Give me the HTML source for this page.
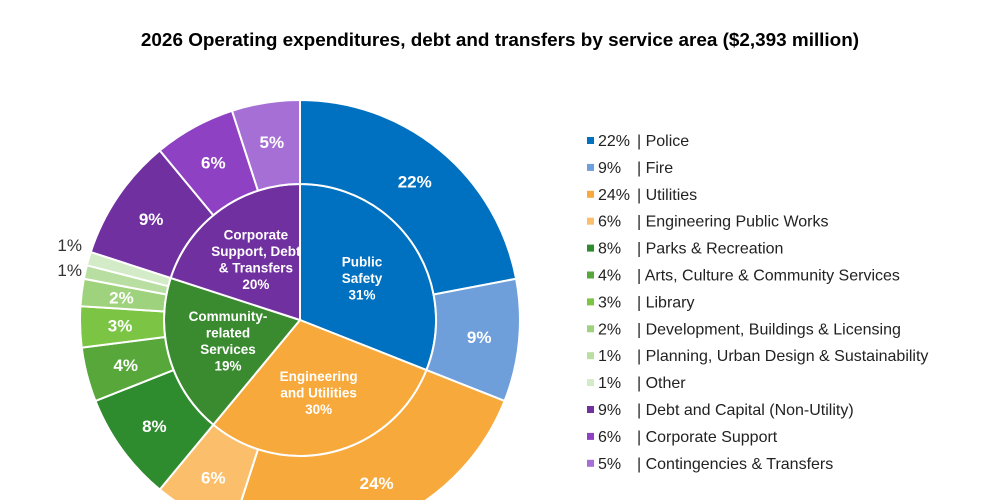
<!DOCTYPE html>
<html><head><meta charset="utf-8"><style>
body{margin:0;background:#fff;width:1000px;height:500px;overflow:hidden;font-family:"Liberation Sans",Arial,sans-serif}
svg{display:block;overflow:hidden}
</style></head><body>
<svg id="chart" width="1000" height="500" viewBox="0 0 1000 500">
<text x="500" y="46" text-anchor="middle" font-size="18.9" font-weight="bold" fill="#000">2026 Operating expenditures, debt and transfers by service area ($2,393 million)</text>
<g id="inner"></g><g id="outer"></g><g id="labels"></g><g id="legend"></g>
</svg>
<script>
const outerNames=["Police","Fire","Utilities","Engineering Public Works","Parks & Recreation","Arts, Culture & Community Services","Library","Development, Buildings & Licensing","Planning, Urban Design & Sustainability","Other","Debt and Capital (Non-Utility)","Corporate Support","Contingencies & Transfers"];
const outerValues=[22,9,24,6,8,4,3,2,1,1,9,6,5];
const outerColors=["#0070c0","#6f9fdb","#f8a93c","#fbbf6c","#2e8b2e","#57a73b","#7cc444","#9fd27c","#b8dea2","#d3ebc6","#7030a0","#8e41c2","#a66fd6"];
const innerNames=[["Public","Safety"],["Engineering","and Utilities"],["Community-","related","Services"],["Corporate","Support, Debt","& Transfers"]];
const innerValues=[31,30,19,20];
const innerColors=["#0070c0","#f8a93c","#3a8a30","#7030a0"];
const NS="http://www.w3.org/2000/svg";
const cx=300,cy=320,R=220,r=136;
function pt(p,rad){const a=p/100*2*Math.PI;return [cx+rad*Math.sin(a),cy-rad*Math.cos(a)];}
function arc(p0,p1,r0,r1){const [x0,y0]=pt(p0,r1),[x1,y1]=pt(p1,r1);const large=(p1-p0)>50?1:0;
 if(r0===0)return `M${cx},${cy}L${x0},${y0}A${r1},${r1} 0 ${large} 1 ${x1},${y1}Z`;
 const [x2,y2]=pt(p1,r0),[x3,y3]=pt(p0,r0);
 return `M${x0},${y0}A${r1},${r1} 0 ${large} 1 ${x1},${y1}L${x2},${y2}A${r0},${r0} 0 ${large} 0 ${x3},${y3}Z`;}
function txt(g,x,y,s,opt){const t=document.createElementNS(NS,"text");t.setAttribute("x",x);t.setAttribute("y",y);t.setAttribute("text-anchor",opt.anchor||"middle");t.setAttribute("font-size",opt.size||16);if(opt.bold)t.setAttribute("font-weight","bold");t.setAttribute("fill",opt.fill||"#fff");t.textContent=s;g.appendChild(t);return t;}
const gi=document.getElementById("inner"),go=document.getElementById("outer"),gl=document.getElementById("labels"),gL=document.getElementById("legend");
let c=0;
innerValues.forEach((v,i)=>{const p=document.createElementNS(NS,"path");p.setAttribute("d",arc(c,c+v,0,r));p.setAttribute("fill",innerColors[i]);p.setAttribute("stroke","#fff");p.setAttribute("stroke-width","2");
 
 
 gi.appendChild(p);
 const m=c+v/2;const [x,y]=pt(m,75);const lines=innerNames[i].concat([v+"%"]);
 lines.forEach((s,k)=>{const t=txt(gl,x,y+(k-(lines.length-1)/2)*16.5+5,s,{size:13.5,bold:true});
  
  });
 c+=v;});
c=0;let smallIdx=0,smallY0=null;
outerValues.forEach((v,i)=>{const p=document.createElementNS(NS,"path");p.setAttribute("d",arc(c,c+v,r,R));p.setAttribute("fill",outerColors[i]);p.setAttribute("stroke","#fff");p.setAttribute("stroke-width","2");
 
 
 go.appendChild(p);
 const m=c+v/2;
 if(v>=2){const [x,y]=pt(m,180);const t=txt(gl,x,y+6,v+"%",{size:17,bold:true});
  
  }
 else{const [x,y]=pt(m,R);if(smallY0===null)smallY0=y;
  const ly=smallY0-21+smallIdx*25;smallIdx++;
  const t=txt(gl,82,ly,v+"%",{size:17,anchor:"end",fill:"#333"});
  
  }
 c+=v;});
outerValues.forEach((v,i)=>{const y=146+i*26.9;
 const s=document.createElementNS(NS,"rect");s.setAttribute("x",587);s.setAttribute("y",y-9);s.setAttribute("width",7);s.setAttribute("height",7);s.setAttribute("fill",outerColors[i]);
 
 
 gL.appendChild(s);
 const pct=txt(gL,598,y,v+"%",{size:16,anchor:"start",fill:"#222"});
 
 
 const t=txt(gL,637,y,"| "+outerNames[i],{size:16,anchor:"start",fill:"#222"});
 
 });
</script>
</body></html>
